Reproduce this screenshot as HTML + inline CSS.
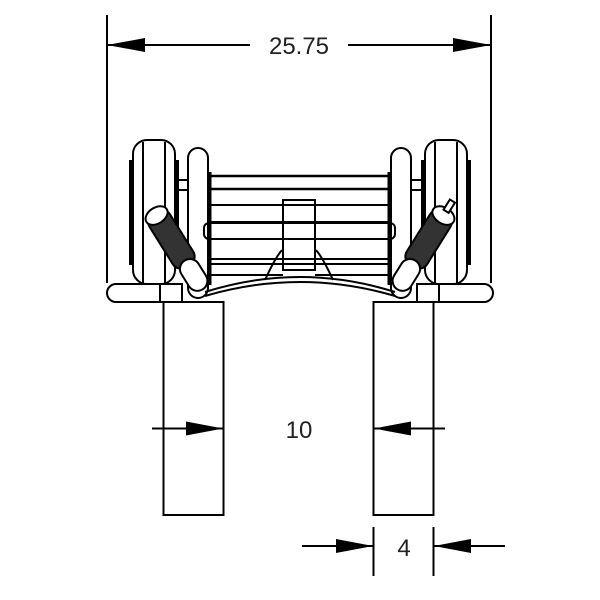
<!DOCTYPE html>
<html><head><style>body{margin:0;background:#fff}svg{display:block}</style></head><body>
<svg width="600" height="600" viewBox="0 0 600 600" xmlns="http://www.w3.org/2000/svg" font-family="Liberation Sans, sans-serif">
<g stroke="#000" stroke-width="2" fill="none">
<line x1="107" y1="15" x2="107" y2="283"/>
<line x1="491" y1="15" x2="491" y2="283"/>
<line x1="107" y1="45" x2="250" y2="45"/>
<line x1="348" y1="45" x2="491" y2="45"/>
<rect x="163.5" y="302" width="60" height="213"/>
<rect x="373.5" y="302" width="60" height="213"/>
<line x1="152" y1="428.5" x2="223" y2="428.5"/>
<line x1="445" y1="428.5" x2="374" y2="428.5"/>
<line x1="373.5" y1="527" x2="373.5" y2="576"/>
<line x1="433.5" y1="527" x2="433.5" y2="576"/>
<line x1="302" y1="546" x2="373" y2="546"/>
<line x1="505" y1="546" x2="434" y2="546"/>
<rect x="133" y="140" width="42" height="144" rx="14"/>
<rect x="425" y="140" width="42" height="144" rx="14"/>
<line x1="143" y1="142" x2="143" y2="283"/><line x1="165" y1="142" x2="165" y2="283"/>
<line x1="435" y1="142" x2="435" y2="283"/><line x1="457" y1="142" x2="457" y2="283"/>
<line x1="131" y1="160" x2="131" y2="265" stroke-width="4"/>
<line x1="177" y1="160" x2="177" y2="265" stroke-width="4"/>
<line x1="423" y1="160" x2="423" y2="265" stroke-width="4"/>
<line x1="469" y1="160" x2="469" y2="265" stroke-width="4"/>
<line x1="175" y1="180" x2="188" y2="180"/><line x1="175" y1="190" x2="188" y2="190"/>
<line x1="411" y1="180" x2="425" y2="180"/><line x1="411" y1="190" x2="425" y2="190"/>
<rect x="188" y="148" width="20" height="150" rx="10"/>
<rect x="391" y="148" width="20" height="150" rx="10"/>
<line x1="210" y1="176" x2="389" y2="176" stroke-width="2.5"/>
<line x1="210" y1="189" x2="389" y2="189" stroke-width="2.5"/>
<line x1="210" y1="205" x2="389" y2="205"/>
<line x1="210" y1="222" x2="389" y2="222"/>
<rect x="204" y="223" width="191" height="16" rx="5"/>
<rect x="283" y="200" width="32" height="70"/>
<line x1="210" y1="172" x2="210" y2="285" stroke-width="3"/><line x1="389" y1="172" x2="389" y2="285" stroke-width="3"/>
<line x1="210" y1="259" x2="389" y2="259"/>
<line x1="210" y1="264" x2="389" y2="264"/>
<line x1="210" y1="275" x2="283" y2="275"/><line x1="315" y1="275" x2="389" y2="275"/>
<path d="M205 292 Q300 262 395 292"/>
<path d="M205 296 Q300 268 395 296"/>
<path d="M265 280 Q275 258 282 250 M333 280 Q323 258 316 250"/>
<path d="M116 284 H182 V302 H116 A9 9 0 0 1 116 284 Z"/>
<line x1="160" y1="284" x2="160" y2="302"/>
<path d="M484 284 H417 V302 H484 A9 9 0 0 0 484 284 Z"/>
<line x1="439" y1="284" x2="439" y2="302"/>
</g>
<g transform="translate(155,213) rotate(-32)" stroke="#000" stroke-width="2">
<rect x="-12" y="0" width="24" height="62" rx="9" fill="#333"/>
<rect x="-10" y="56" width="20" height="34" rx="10" fill="#fff"/>
<ellipse cx="0" cy="3" rx="12" ry="8" fill="#fff"/>
</g>
<g transform="translate(445,213) rotate(32)" stroke="#000" stroke-width="2">
<rect x="-12" y="0" width="24" height="62" rx="9" fill="#333"/>
<rect x="-10" y="56" width="20" height="34" rx="10" fill="#fff"/>
<ellipse cx="0" cy="3" rx="12" ry="8" fill="#fff"/>
<rect x="-3" y="-14" width="6" height="12" fill="#fff"/>
</g>
<g fill="#000">
<polygon points="107,45 145,38 145,52"/>
<polygon points="491,45 453,38 453,52"/>
<polygon points="223,428.5 186,421.5 186,435.5"/>
<polygon points="374,428.5 411,421.5 411,435.5"/>
<polygon points="373,546 336,539 336,553"/>
<polygon points="434,546 471,539 471,553"/>
</g>
<g font-size="24" fill="#222" text-anchor="middle">
<text x="299" y="54">25.75</text>
<text x="299" y="438">10</text>
<text x="404" y="556">4</text>
</g>
</svg>
</body></html>
